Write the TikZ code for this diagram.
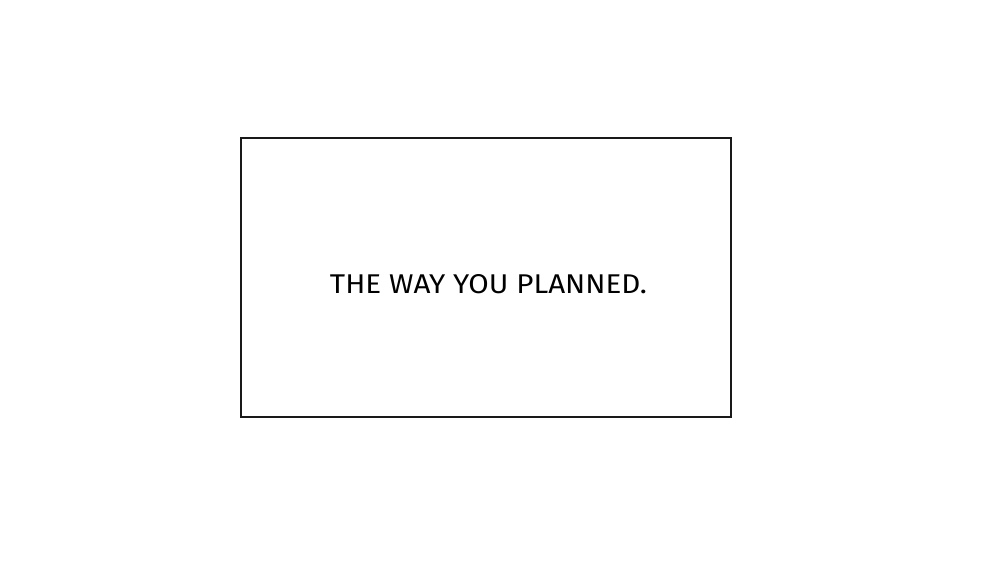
\documentclass[tikz,border=0pt]{standalone}
\usepackage{fontspec}
\setmainfont{Fira Sans}
\begin{document}
\begin{tikzpicture}[x=1pt,y=1pt,
  panel/.style={draw=black!90,line width=2.3pt,fill=white},
  caption/.style={font=\fontsize{27}{30}\selectfont,text=black,inner sep=0pt,anchor=center}]
\useasboundingbox[fill=white] (0,0) rectangle (1007,585);
\node[panel,minimum width=490pt,minimum height=279pt,inner sep=0pt] (box) at (486,307.5) {};
\node[caption] (txt) at (488.5,300.5) {\resizebox{317pt}{19pt}{THE WAY YOU PLANNED.}};
\end{tikzpicture}
\end{document}
